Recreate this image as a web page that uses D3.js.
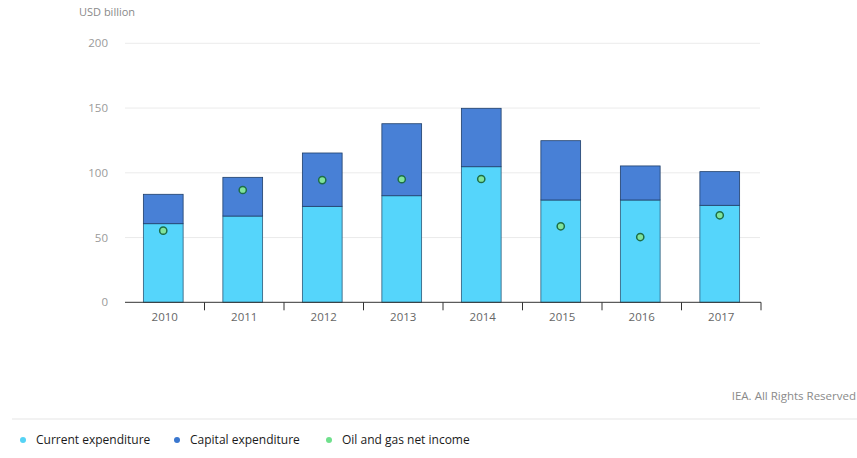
<!DOCTYPE html>
<html><head><meta charset="utf-8">
<script src="https://cdn.jsdelivr.net/npm/d3@7"></script>
<style>body{margin:0;background:#fff;}svg{display:block;font-family:"Open Sans",Lato,sans-serif;}</style>
</head><body><svg id="c" width="857" height="458"></svg>
<script>
const years = ["2010","2011","2012","2013","2014","2015","2016","2017"];
const currentExp = [60.7, 66.6, 74.1, 82.3, 104.7, 79.0, 79.0, 74.9];
const capitalExp = [22.7, 29.9, 41.2, 55.6, 45.1, 45.8, 26.3, 26.0];
const netIncome = [55.3, 86.7, 94.4, 95.0, 95.2, 58.7, 50.4, 67.2];
const yTicks = [0, 50, 100, 150, 200];
const seriesNames = ["Current expenditure", "Capital expenditure", "Oil and gas net income"];

const svg = d3.select("#c");
const x = d3.scaleBand().domain(years).range([125, 761]).paddingInner(0.5).paddingOuter(0.25);
const y = d3.scaleLinear().domain([0, 200]).range([302.3, 43.3]);

// gridlines
svg.append("g").selectAll("line").data(yTicks.filter(d=>d>0)).join("line")
  .attr("x1", 125).attr("x2", 760).attr("y1", d=>y(d)).attr("y2", d=>y(d))
  .attr("stroke", "#ebebeb").attr("stroke-width", 1);

// y labels
svg.append("g").selectAll("text").data(yTicks).join("text")
  .attr("x", 108).attr("y", d=>y(d)+4).attr("text-anchor","end")
  .attr("font-size", 11.5).attr("fill", "#9a9a9a").text(d=>d);

svg.append("text").attr("x", 79).attr("y", 16).attr("font-size", 11).attr("fill", "#8a8a8a").text("USD billion");

const off = -1.5;
// current bars
svg.append("g").selectAll("rect").data(years).join("rect")
  .attr("x", d=>x(d)+off).attr("width", x.bandwidth())
  .attr("y", (d,i)=>y(currentExp[i])).attr("height", (d,i)=>y(0)-y(currentExp[i]))
  .attr("fill", "#55d5fb").attr("stroke", "#2c5a78").attr("stroke-width", 0.8);
// capital bars
svg.append("g").selectAll("rect").data(years).join("rect")
  .attr("x", d=>x(d)+off).attr("width", x.bandwidth())
  .attr("y", (d,i)=>y(currentExp[i]+capitalExp[i])).attr("height", (d,i)=>y(currentExp[i])-y(currentExp[i]+capitalExp[i]))
  .attr("fill", "#4880d6").attr("stroke", "#1f3f6a").attr("stroke-width", 0.8);

// x axis
const xAxis = svg.append("g").attr("transform", `translate(0,${y(0)})`);
xAxis.append("line").attr("x1",125).attr("x2",761).attr("stroke","#333").attr("stroke-width",1);
const bounds = d3.range(years.length+1).map(i=>125 + i*x.step());
xAxis.selectAll("line.t").data(bounds.slice(1)).join("line").attr("class","t")
  .attr("x1",d=>d).attr("x2",d=>d).attr("y1",0).attr("y2",8).attr("stroke","#333").attr("stroke-width",1);
xAxis.selectAll("text").data(years).join("text")
  .attr("x", d=>x(d)+x.bandwidth()/2).attr("y", 19).attr("text-anchor","middle")
  .attr("font-size", 11.5).attr("fill","#666").text(d=>d);

// dots
svg.append("g").selectAll("circle").data(years).join("circle")
  .attr("cx", d=>x(d)+off+x.bandwidth()/2).attr("cy",(d,i)=>y(netIncome[i])).attr("r",3.6)
  .attr("fill","#7fe39c").attr("stroke","#1d6e46").attr("stroke-width",1.5);

// credit
svg.append("text").attr("x", 856).attr("y", 400).attr("text-anchor","end")
  .attr("font-size", 11.5).attr("fill","#8a8a8a").text("IEA. All Rights Reserved");
svg.append("line").attr("x1",12).attr("x2",857).attr("y1",419).attr("y2",419).attr("stroke","#eeeeee").attr("stroke-width",1.5);

// legend
const legColors = ["#56d3f5","#3a77cf","#6fe08c"];
const legX = [23, 177, 329];
const lg = svg.append("g").selectAll("g").data(seriesNames).join("g")
  .attr("transform",(d,i)=>`translate(${legX[i]},440)`);
lg.append("circle").attr("r",3).attr("fill",(d,i)=>legColors[i]);
lg.append("text").attr("x",13).attr("y",4).attr("font-size",12).attr("font-weight",500).attr("fill","#1a1a1a").text(d=>d);
</script></body></html>
